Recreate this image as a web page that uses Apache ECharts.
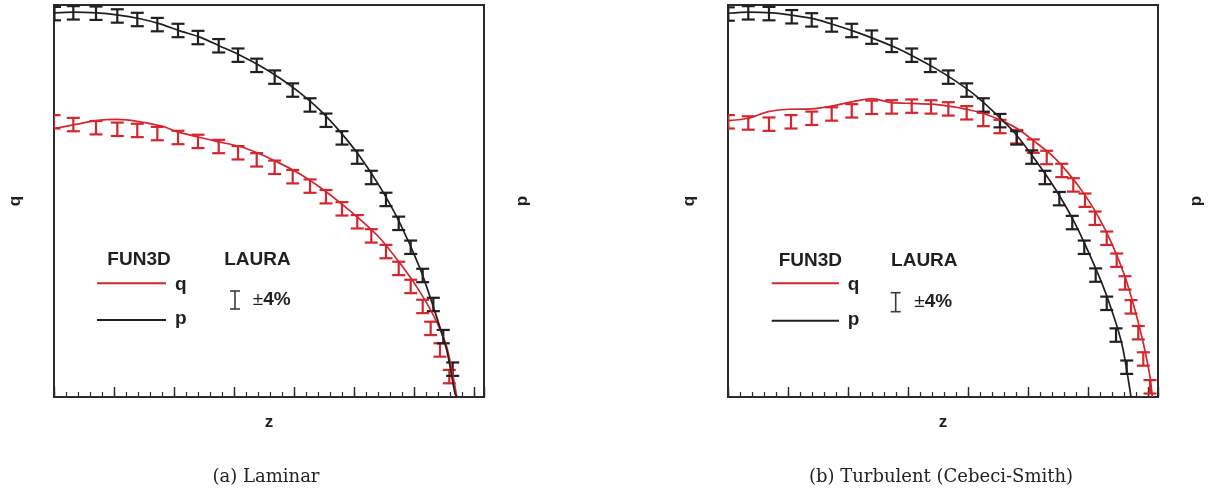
<!DOCTYPE html>
<html>
<head>
<meta charset="utf-8">
<script src="https://cdn.jsdelivr.net/npm/echarts@6/dist/echarts.min.js"></script>
<style>
html,body{margin:0;padding:0;background:#fff;}
#chart{width:1216px;height:492px;}
</style>
</head>
<body>
<div id="chart"></div>
<script>
// ---------- DATA (z along the body, normalized q and p) ----------
// (a) Laminar
const lamLauraPz = [0.008,0.322,0.700,1.055,1.388,1.722,2.067,2.400,2.745,3.067,3.378,3.678,3.978,4.267,4.533,4.800,5.055,5.288,5.533,5.745,5.945,6.145,6.322,6.488,6.645];
const lamLauraP  = [0.978,0.980,0.979,0.972,0.963,0.950,0.935,0.917,0.896,0.872,0.846,0.816,0.783,0.745,0.706,0.661,0.612,0.560,0.504,0.443,0.382,0.310,0.236,0.154,0.071];
const lamLauraQz = [0.000,0.322,0.700,1.055,1.388,1.722,2.067,2.400,2.745,3.067,3.378,3.678,3.978,4.267,4.533,4.800,5.055,5.288,5.533,5.745,5.945,6.145,6.278,6.433,6.588];
const lamLauraQ  = [0.702,0.695,0.687,0.683,0.680,0.672,0.662,0.652,0.639,0.623,0.605,0.586,0.562,0.538,0.511,0.480,0.447,0.411,0.371,0.328,0.282,0.231,0.175,0.120,0.052];
const lamFunQz = [0.000,0.322,0.700,1.055,1.433,1.822,2.045,2.378,2.745,3.100,3.433,3.767,4.100,4.433,4.767,5.100,5.433,5.767,6.045,6.322,6.545,6.712];
const lamFunQ  = [0.685,0.694,0.705,0.708,0.702,0.690,0.677,0.664,0.651,0.639,0.620,0.596,0.569,0.535,0.496,0.453,0.405,0.341,0.281,0.209,0.128,0.001];
const lamFunPz = [0.000,0.322,0.712,1.045,1.433,1.767,2.100,2.433,2.767,3.100,3.433,3.767,4.100,4.433,4.767,5.100,5.433,5.767,6.100,6.322,6.545,6.683,6.717];
const lamFunP  = [0.980,0.982,0.980,0.975,0.965,0.952,0.934,0.918,0.895,0.872,0.845,0.813,0.776,0.732,0.677,0.613,0.536,0.443,0.328,0.230,0.120,0.009,0.000];

// (b) Turbulent (Cebeci-Smith)
const turbLauraPz = [0.005,0.338,0.683,1.062,1.395,1.728,2.062,2.395,2.728,3.062,3.372,3.672,3.978,4.255,4.533,4.812,5.062,5.283,5.522,5.738,5.938,6.128,6.312,6.467,6.645];
const turbLauraP  = [0.977,0.980,0.978,0.970,0.962,0.949,0.935,0.918,0.897,0.872,0.846,0.816,0.783,0.745,0.705,0.661,0.612,0.560,0.506,0.445,0.382,0.311,0.239,0.158,0.076];
const turbLauraQz = [0.005,0.338,0.683,1.050,1.395,1.728,2.062,2.395,2.728,3.062,3.383,3.672,3.978,4.255,4.533,4.812,5.088,5.312,5.562,5.755,5.950,6.117,6.312,6.478,6.617,6.717,6.838,6.922,7.033];
const turbLauraQ  = [0.702,0.699,0.696,0.702,0.711,0.722,0.730,0.739,0.740,0.742,0.740,0.735,0.725,0.708,0.690,0.664,0.640,0.611,0.578,0.541,0.502,0.456,0.405,0.349,0.291,0.230,0.164,0.097,0.026];
const turbFunQz = [0.005,0.338,0.672,1.005,1.395,1.728,2.062,2.395,2.728,3.062,3.395,3.672,3.978,4.283,4.562,4.838,5.117,5.395,5.672,5.950,6.172,6.395,6.617,6.783,6.922,7.033,7.072];
const turbFunQ  = [0.705,0.711,0.728,0.734,0.735,0.742,0.753,0.761,0.751,0.749,0.747,0.742,0.734,0.722,0.705,0.683,0.651,0.617,0.571,0.515,0.460,0.392,0.307,0.222,0.137,0.052,0.000];
const turbFunPz = [0.005,0.338,0.728,1.062,1.450,1.783,2.117,2.450,2.783,3.117,3.450,3.783,4.117,4.450,4.783,5.117,5.450,5.783,6.117,6.338,6.562,6.717];
const turbFunP  = [0.979,0.982,0.980,0.974,0.964,0.949,0.932,0.913,0.892,0.867,0.839,0.807,0.770,0.724,0.673,0.606,0.532,0.443,0.332,0.247,0.137,0.000];

const panelCaptions = ['(a) Laminar', '(b) Turbulent (Cebeci-Smith)'];
const xName = 'z', qName = 'q', pName = 'p';
const legendHeaders = ['FUN3D', 'LAURA'];

// ---------- STYLE ----------
const RED = '#d4262e', BLACK = '#231f20', FRAME = '#2b2b2b';
const XMAX = 430 / 60;
const sans = '"Liberation Sans", Arial, Helvetica, sans-serif';

const pair = (xs, ys) => xs.map((x, i) => [x, ys[i]]);

function errBar(color) {
  return function (params, api) {
    const c = api.coord([api.value(0), api.value(1)]);
    const h = 6.7, w = 6.5;
    const st = { stroke: color, lineWidth: 2.2 };
    return {
      type: 'group',
      children: [
        { type: 'line', shape: { x1: c[0], y1: c[1] - h, x2: c[0], y2: c[1] + h }, style: st },
        { type: 'line', shape: { x1: c[0] - w, y1: c[1] - h, x2: c[0] + w, y2: c[1] - h }, style: st },
        { type: 'line', shape: { x1: c[0] - w, y1: c[1] + h, x2: c[0] + w, y2: c[1] + h }, style: st }
      ]
    };
  };
}

const grids = [
  { left: 54, top: 5, width: 430, height: 392 },
  { left: 728, top: 5, width: 430, height: 392 }
].map(g => Object.assign(g, { show: true, borderColor: FRAME, borderWidth: 2, backgroundColor: 'transparent' }));

const nameStyle = { fontFamily: 'Liberation Sans', fontWeight: 'bold', fontSize: 17, color: BLACK };

function xAxes(gi) {
  const base = {
    gridIndex: gi, type: 'value', min: 0, max: XMAX, position: 'bottom',
    axisLine: { show: false }, axisLabel: { show: false }, splitLine: { show: false }
  };
  return [
    Object.assign({}, base, {
      interval: 1,
      axisTick: { show: true, inside: true, length: 10, lineStyle: { color: FRAME, width: 1.4 } },
      name: xName, nameLocation: 'middle', nameGap: 17, nameTextStyle: nameStyle
    }),
    Object.assign({}, base, {
      interval: 0.2,
      axisTick: { show: true, inside: true, length: 5, lineStyle: { color: FRAME, width: 1.2 } }
    })
  ];
}
function yAxes(gi) {
  const base = {
    gridIndex: gi, type: 'value', min: 0, max: 1,
    axisLine: { show: false }, axisTick: { show: false }, axisLabel: { show: false }, splitLine: { show: false },
    nameLocation: 'middle', nameTextStyle: nameStyle
  };
  return [
    Object.assign({}, base, { position: 'left', name: qName, nameGap: 30 }),
    Object.assign({}, base, { position: 'right', name: pName, nameGap: 30 })
  ];
}

function panelSeries(gi, lqz, lq, lpz, lp, fqz, fq, fpz, fp) {
  const xi = gi * 2, yq = gi * 2, yp = gi * 2 + 1;
  return [
    { type: 'custom', name: 'LAURA q', xAxisIndex: xi, yAxisIndex: yq, clip: true, renderItem: errBar(RED), data: pair(lqz, lq), z: 2 },
    { type: 'custom', name: 'LAURA p', xAxisIndex: xi, yAxisIndex: yp, clip: true, renderItem: errBar(BLACK), data: pair(lpz, lp), z: 2 },
    { type: 'line', name: 'FUN3D q', xAxisIndex: xi, yAxisIndex: yq, data: pair(fqz, fq), smooth: 0.25, showSymbol: false, symbol: 'none', lineStyle: { color: RED, width: 1.7 }, z: 3 },
    { type: 'line', name: 'FUN3D p', xAxisIndex: xi, yAxisIndex: yp, data: pair(fpz, fp), smooth: 0.25, showSymbol: false, symbol: 'none', lineStyle: { color: BLACK, width: 1.7 }, z: 3 }
  ];
}

function legendGraphics(L) {
  const txt = (x, y, t, align) => ({
    type: 'text', x: x, y: y,
    style: { text: t, fill: BLACK, fontFamily: 'Liberation Sans', fontWeight: 'bold', fontSize: 19, align: align || 'center', verticalAlign: 'middle' }
  });
  const ln = (x1, y1, x2, y2, color, w) => ({
    type: 'line', shape: { x1, y1, x2, y2 }, style: { stroke: color, lineWidth: w }
  });
  return [
    txt(L.fx, L.hy, legendHeaders[0]),
    txt(L.lx, L.hy, legendHeaders[1]),
    ln(L.l1, L.qy, L.l2, L.qy, RED, 2),
    txt(L.tx, L.qy + 1, qName, 'left'),
    ln(L.l1, L.py, L.l2, L.py, BLACK, 2),
    txt(L.tx, L.py - 1, pName, 'left'),
    ln(L.ix, L.iy1, L.ix, L.iy2, '#3a3a3a', 1.6),
    ln(L.ix - 5, L.iy1, L.ix + 5, L.iy1, '#3a3a3a', 1.6),
    ln(L.ix - 5, L.iy2, L.ix + 5, L.iy2, '#3a3a3a', 1.6),
    {
      type: 'text', x: L.bx, y: L.by,
      style: {
        text: '{a|±}{b|4%}', align: 'left', verticalAlign: 'middle',
        rich: {
          a: { fontFamily: 'Liberation Sans', fontSize: 19, fontWeight: 'normal', fill: BLACK },
          b: { fontFamily: 'Liberation Sans', fontSize: 19, fontWeight: 'bold', fill: BLACK }
        }
      }
    }
  ];
}

const captionStyle = (t) => ({ text: t, fill: '#222', fontFamily: 'DejaVu Serif', fontSize: 18, align: 'center', verticalAlign: 'middle' });

const option = {
  animation: false,
  backgroundColor: '#fff',
  grid: grids,
  xAxis: [].concat(xAxes(0), xAxes(1)),
  yAxis: [].concat(yAxes(0), yAxes(1)),
  series: [].concat(
    panelSeries(0, lamLauraQz, lamLauraQ, lamLauraPz, lamLauraP, lamFunQz, lamFunQ, lamFunPz, lamFunP),
    panelSeries(1, turbLauraQz, turbLauraQ, turbLauraPz, turbLauraP, turbFunQz, turbFunQ, turbFunPz, turbFunP)
  ),
  graphic: [].concat(
    legendGraphics({ fx: 139, lx: 257.5, hy: 260, l1: 97, l2: 166, qy: 283.3, py: 320, tx: 175, ix: 235, iy1: 291, iy2: 309, bx: 252.7, by: 300 }),
    legendGraphics({ fx: 810.3, lx: 924.3, hy: 260.5, l1: 771.7, l2: 839, qy: 283.3, py: 320.7, tx: 847.7, ix: 895.7, iy1: 292.7, iy2: 311.7, bx: 914.3, by: 301.7 }),
    [
      { type: 'text', x: 266, y: 477, style: captionStyle(panelCaptions[0]) },
      { type: 'text', x: 941, y: 477, style: captionStyle(panelCaptions[1]) }
    ]
  )
};

const chart = echarts.init(document.getElementById('chart'), null, { renderer: 'canvas' });
chart.setOption(option);
</script>
</body>
</html>
